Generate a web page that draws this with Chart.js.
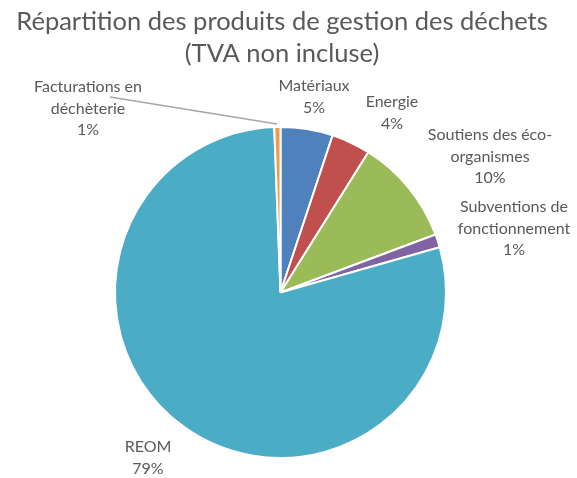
<!DOCTYPE html>
<html>
<head>
<meta charset="utf-8">
<script src="https://cdn.jsdelivr.net/npm/chart.js@4"></script>
<style>
  body { margin: 0; background: #fff; }
  #wrap { width: 577px; height: 478px; }
</style>
</head>
<body>
<div id="wrap"><canvas id="grafico" width="577" height="478"></canvas></div>
<script>
const categories = ['Matériaux', 'Energie', 'Soutiens des éco-organismes', 'Subventions de fonctionnement', 'REOM', 'Facturations en déchèterie'];
const values = [5.1, 3.8, 10.4, 1.3, 78.8, 0.6];
const pctLabels = ['5%', '4%', '10%', '1%', '79%', '1%'];
const labelLines = [['Matériaux'], ['Energie'], ['Soutiens des éco-', 'organismes'], ['Subventions de', 'fonctionnement'], ['REOM'], ['Facturations en', 'déchèterie']];
const colors = ['#4F81BD', '#C0504D', '#9BBB59', '#8064A2', '#4BACC6', '#F79646'];

const FONT = 'Lato, "Liberation Sans", sans-serif';

// where each label block sits (center x, first line y)
const labelPos = [[314, 86], [392, 102], [490, 135], [514, 207], [148, 447], [88, 87]];

const etiquetas = {
  id: 'etiquetas',
  afterDraw(chart) {
    const ctx = chart.ctx;
    ctx.save();
    // titre
    ctx.fillStyle = '#595959';
    ctx.font = '25.5px ' + FONT;
    ctx.textAlign = 'center';
    ctx.textBaseline = 'middle';
    ctx.fillText('Répartition des produits de gestion des déchets', 282, 22);
    ctx.fillText('(TVA non incluse)', 282, 54);

    // ligne de rappel
    ctx.strokeStyle = '#A6A6A6';
    ctx.lineWidth = 1.5;
    ctx.beginPath();
    ctx.moveTo(110, 97);
    ctx.lineTo(277, 124);
    ctx.stroke();

    ctx.font = '16px ' + FONT;
    ctx.fillStyle = '#595959';
    labelLines.forEach((lines, i) => {
      const [x, y] = labelPos[i];
      const all = lines.concat([pctLabels[i]]);
      all.forEach((t, j) => ctx.fillText(t, x, y + j * 21.5));
    });
    ctx.restore();
  }
};

const ctx = document.getElementById('grafico').getContext('2d');
const grafico = new Chart(ctx, {
  type: 'pie',
  data: {
    labels: categories,
    datasets: [{
      data: values,
      backgroundColor: colors,
      borderColor: '#ffffff',
      borderWidth: 2
    }]
  },
  options: {
    responsive: false,
    animation: false,
    layout: { padding: { top: 126, bottom: 19, left: 114, right: 130 } },
    plugins: {
      legend: { display: false },
      tooltip: { enabled: false }
    }
  },
  plugins: [etiquetas]
});
</script>
</body>
</html>
